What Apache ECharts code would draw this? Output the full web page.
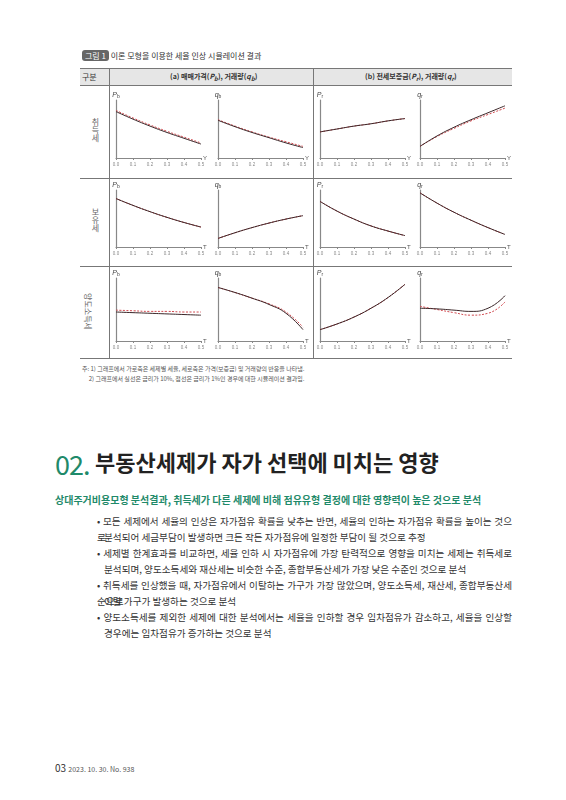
<!DOCTYPE html>
<html><head><meta charset="utf-8">
<script src="https://cdn.jsdelivr.net/npm/echarts@6/dist/echarts.min.js"></script>
<style>
body{margin:0;width:566px;height:800px;background:#fff;font-family:"Noto Sans CJK KR","Noto Sans",sans-serif;position:relative;overflow:hidden}
.a{position:absolute;white-space:nowrap}
#c{position:absolute;left:0;top:0;width:566px;height:800px}
.ln{position:absolute;background:#777}
.b{font-size:9.6px;color:#333;line-height:16px}
.j{width:415px;text-align:justify;text-align-last:justify;white-space:normal}
.v{font-size:8px;color:#666;writing-mode:vertical-rl;text-orientation:upright}
</style></head><body>
<div class="a" style="left:82px;top:50px;font-size:8px;color:#333"><span style="background:#666;color:#fff;border-radius:3px;padding:0 3px">그림 1</span> 이론 모형을 이용한 세율 인상 시뮬레이션 결과</div>
<div class="a" style="left:80px;top:68px;width:432px;height:17px;background:#e6e6e6"></div>
<div class="ln" style="left:80px;top:68px;width:432px;height:1px"></div>
<div class="ln" style="left:80px;top:85px;width:432px;height:1px"></div>
<div class="ln" style="left:80px;top:178px;width:432px;height:1px"></div>
<div class="ln" style="left:80px;top:266px;width:432px;height:1px"></div>
<div class="ln" style="left:80px;top:358px;width:432px;height:1px"></div>
<div class="ln" style="left:109px;top:68px;width:1px;height:290px"></div>
<div class="ln" style="left:313px;top:68px;width:1px;height:290px"></div>
<div class="a" style="left:82px;top:71px;font-size:8px;color:#333">구분</div>
<div class="a" style="left:170px;top:71px;font-size:7px;font-weight:bold;color:#333">(a) 매매가격(<i>P<sub>b</sub></i>), 거래량(<i>q<sub>b</sub></i>)</div>
<div class="a" style="left:365px;top:71px;font-size:7px;font-weight:bold;color:#333">(b) 전세보증금(<i>P<sub>r</sub></i>), 거래량(<i>q<sub>r</sub></i>)</div>
<div class="a v" style="left:90px;top:118px">취득세</div>
<div class="a v" style="left:90px;top:208px">보유세</div>
<div class="a" style="left:70px;top:306px;font-size:8px;color:#666;transform:rotate(90deg)">양도소득세</div>
<div class="a" style="left:82px;top:364px;font-size:6px;color:#555;line-height:10px">주: 1) 그래프에서 가로축은 세제별 세율, 세로축은 가격(보증금) 및 거래량의 반응을 나타냄.<br>&nbsp;&nbsp;&nbsp;&nbsp;&nbsp;2) 그래프에서 실선은 금리가 10%, 점선은 금리가 1%인 경우에 대한 시뮬레이션 결과임.</div>
<div class="a" style="left:55px;top:444px;font-size:27px;color:#1f8a6a;letter-spacing:-1px">02.</div>
<div class="a" style="left:95px;top:445px;font-size:22px;font-weight:bold;color:#222">부동산세제가 자가 선택에 미치는 영향</div>
<div class="a" style="left:55px;top:492px;font-size:10px;font-weight:bold;color:#1f8a6a">상대주거비용모형 분석결과, 취득세가 다른 세제에 비해 점유유형 결정에 대한 영향력이 높은 것으로 분석</div>
<div class="a b j" style="left:97px;top:513px">• 모든 세제에서 세율의 인상은 자가점유 확률을 낮추는 반면, 세율의 인하는 자가점유 확률을 높이는 것으로</div>
<div class="a b" style="left:104px;top:529px">분석되어 세금부담이 발생하면 크든 작든 자가점유에 일정한 부담이 될 것으로 추정</div>
<div class="a b j" style="left:97px;top:545px">• 세제별 한계효과를 비교하면, 세율 인하 시 자가점유에 가장 탄력적으로 영향을 미치는 세제는 취득세로</div>
<div class="a b" style="left:104px;top:561px">분석되며, 양도소득세와 재산세는 비슷한 수준, 종합부동산세가 가장 낮은 수준인 것으로 분석</div>
<div class="a b j" style="left:97px;top:577px">• 취득세를 인상했을 때, 자가점유에서 이탈하는 가구가 가장 많았으며, 양도소득세, 재산세, 종합부동산세순으로</div>
<div class="a b" style="left:104px;top:593px">이탈 가구가 발생하는 것으로 분석</div>
<div class="a b j" style="left:97px;top:609px">• 양도소득세를 제외한 세제에 대한 분석에서는 세율을 인하할 경우 임차점유가 감소하고, 세율을 인상할</div>
<div class="a b" style="left:104px;top:625px">경우에는 임차점유가 증가하는 것으로 분석</div>
<div class="a" style="left:55px;top:760px;font-size:10px;color:#333">03 <span style="font-size:7px;color:#555">2023. 10. 30. No. 938</span></div>
<div id="c"></div>
<script>
const xs = [0, 0.1, 0.2, 0.3, 0.4, 0.5];
const xTicks = ['0.0','0.1','0.2','0.3','0.4','0.5'];
const yNames = ['Pb','qb','Pr','qr'];
const xNames = ['Y','T','T'];
// row 1 취득세
const r1s = [[0.80,0.67,0.55,0.44,0.34,0.24],[0.65,0.54,0.44,0.35,0.26,0.18],[0.45,0.50,0.55,0.59,0.64,0.68],[0.20,0.38,0.53,0.66,0.78,0.90]];
const r1d = [[0.82,0.69,0.57,0.46,0.36,0.26],[0.66,0.55,0.45,0.36,0.28,0.20],[0.45,0.50,0.55,0.59,0.64,0.68],[0.20,0.37,0.51,0.64,0.75,0.86]];
// row 2 보유세
const r2s = [[0.85,0.73,0.62,0.52,0.43,0.35],[0.15,0.25,0.34,0.42,0.49,0.55],[0.80,0.63,0.49,0.37,0.28,0.20],[0.95,0.77,0.61,0.47,0.34,0.22]];
const r2d = [[0.85,0.73,0.62,0.52,0.43,0.35],[0.15,0.25,0.34,0.42,0.49,0.55],[0.80,0.63,0.49,0.37,0.28,0.20],[0.95,0.77,0.61,0.47,0.34,0.22]];
// row 3 양도소득세
const r3s = [[0.46,0.45,0.44,0.43,0.42,0.41],[0.85,0.77,0.68,0.58,0.44,0.18],[0.18,0.27,0.38,0.52,0.69,0.90],[0.52,0.51,0.49,0.47,0.52,0.72]];
const r3d = [[0.49,0.48,0.47,0.47,0.46,0.46],[0.85,0.77,0.68,0.59,0.46,0.22],[0.18,0.27,0.38,0.52,0.69,0.90],[0.55,0.50,0.45,0.41,0.44,0.62]];
const rows = [[r1s,r1d],[r2s,r2d],[r3s,r3d]];
const rowTop = [100,190,278], rowBot = [158,247,341];
const colL = [116,218,320,420], colW = 85;
const grid=[],xAxis=[],yAxis=[],series=[];
let k=0;
for(let r=0;r<3;r++)for(let c=0;c<4;c++){
  grid.push({left:colL[c],top:rowTop[r],width:colW,height:rowBot[r]-rowTop[r]});
  xAxis.push({gridIndex:k,type:'value',min:0,max:0.5,interval:0.1,name:xNames[r],nameGap:2,
    nameTextStyle:{fontSize:6,color:'#555'},
    axisLine:{lineStyle:{color:'#888',width:1.2}},axisTick:{length:2,lineStyle:{color:'#888'}},
    axisLabel:{fontSize:4.5,color:'#888',margin:4,formatter:v=>xTicks[Math.round(v*10)]},splitLine:{show:false}});
  yAxis.push({gridIndex:k,type:'value',min:0,max:1,name:'{i|'+yNames[c][0]+'}{s|'+yNames[c][1]+'}',nameGap:1,
    nameTextStyle:{rich:{i:{fontSize:7,fontStyle:'italic',color:'#444'},s:{fontSize:5,color:'#444',verticalAlign:'bottom'}}},
    axisLine:{show:true,lineStyle:{color:'#888',width:1.2}},axisTick:{show:false},axisLabel:{show:false},splitLine:{show:false}});
  const [s,d]=rows[r];
  series.push({type:'line',xAxisIndex:k,yAxisIndex:k,smooth:true,symbol:'none',data:xs.map((x,i)=>[x,d[c][i]]),lineStyle:{color:'#d04a50',width:1,type:[2,1.5]}});
  series.push({type:'line',xAxisIndex:k,yAxisIndex:k,smooth:true,symbol:'none',data:xs.map((x,i)=>[x,s[c][i]]),lineStyle:{color:'#3a2628',width:1}});
  k++;
}
const ch=echarts.init(document.getElementById('c'),null,{renderer:'canvas'});
ch.setOption({animation:false,grid,xAxis,yAxis,series});
</script>
</body></html>
